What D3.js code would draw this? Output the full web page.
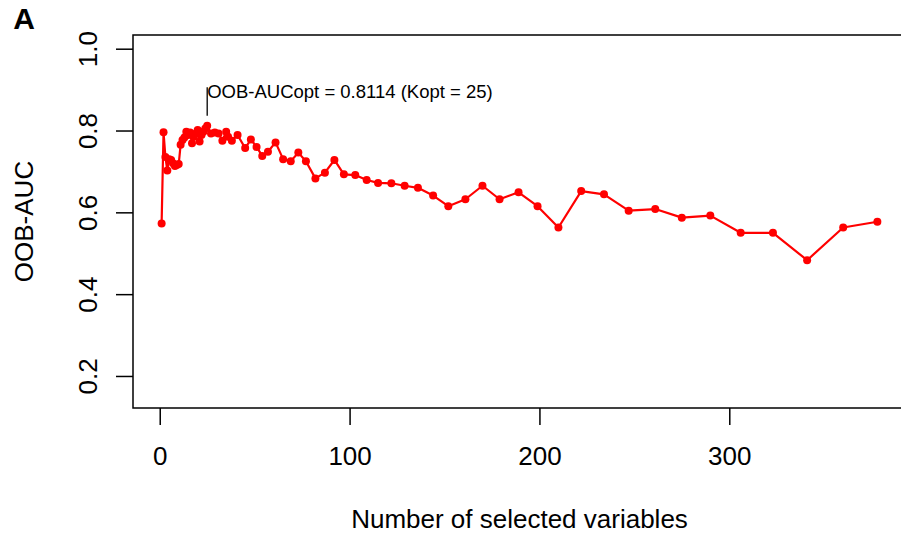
<!DOCTYPE html>
<html>
<head>
<meta charset="utf-8">
<script src="https://cdn.jsdelivr.net/npm/d3@7"></script>
<style>
	body { margin: 0; background: #fff; }
	text { font-family: "Liberation Sans", Arial, sans-serif; }
</style>
</head>
<body>
<div id="canvas"></div>
<script>
// data
const nVars = [1, 2, 3, 4, 5, 6, 7, 8, 9, 10, 11, 12, 13, 14, 15, 16, 17, 18, 19, 20, 21, 22, 23, 24, 25,
	27, 29, 31, 33, 35, 36, 38, 41, 45, 48, 51, 54, 57, 61, 65, 69, 73, 77, 82, 87, 92, 97, 103,
	109, 115, 122, 129, 136, 144, 152, 161, 170, 179, 189, 199, 210, 222, 234, 247, 261, 275, 290,
	306, 323, 341, 360, 378];
const oobAuc = [0.573, 0.796, 0.735, 0.702, 0.730, 0.728, 0.720, 0.713, 0.716, 0.718, 0.765, 0.777, 0.783,
	0.797, 0.789, 0.795, 0.769, 0.785, 0.793, 0.801, 0.773, 0.789, 0.797, 0.805, 0.8114,
	0.793, 0.795, 0.793, 0.775, 0.797, 0.785, 0.775, 0.789, 0.757, 0.778, 0.760, 0.738, 0.748, 0.771,
	0.730, 0.725, 0.746, 0.725, 0.683, 0.697, 0.728, 0.693, 0.691,
	0.679, 0.672, 0.671, 0.665, 0.660, 0.641, 0.615, 0.632, 0.665, 0.632, 0.649, 0.615, 0.563, 0.652,
	0.644, 0.604, 0.608, 0.587, 0.592, 0.550, 0.550, 0.483, 0.563, 0.577];
const xTicks = [0, 100, 200, 300];
const yTicks = [0.2, 0.4, 0.6, 0.8, 1.0];
const kOpt = 25;
const aucOpt = 0.8114;
const optLabel = `OOB-AUCopt = ${aucOpt} (Kopt = ${kOpt})`;
const panelLabel = "A";
const xTitle = "Number of selected variables";
const yTitle = "OOB-AUC";

function drawChart() {

	// 1. Dimensions
	const width = 901;
	const height = 536;
	const box = { left: 133, top: 35, right: 906, bottom: 408 };

	// 2. Canvas
	const svg = d3.select("#canvas")
		.append("svg")
		.attr("width", width)
		.attr("height", height);

	// 3. Scales
	const xScale = d3.scaleLinear()
		.domain([-14.08, 393.08])
		.range([box.left, box.right]);

	const yScale = d3.scaleLinear()
		.domain([0.1217, 1.0335])
		.range([box.bottom, box.top]);

	// 4. Data
	const data = nVars.map((k, i) => ({ k: k, auc: oobAuc[i] }));

	const line = d3.line()
		.x(d => xScale(d.k))
		.y(d => yScale(d.auc));

	svg.append("path")
		.datum(data)
		.attr("fill", "none")
		.attr("stroke", "#ff0000")
		.attr("stroke-width", 2.2)
		.attr("stroke-linejoin", "round")
		.attr("d", line);

	svg.append("g")
		.selectAll("circle")
		.data(data)
		.enter()
		.append("circle")
		.attr("cx", d => xScale(d.k))
		.attr("cy", d => yScale(d.auc))
		.attr("r", 4)
		.attr("fill", "#ff0000");

	// optimum marker
	svg.append("line")
		.attr("x1", xScale(kOpt))
		.attr("x2", xScale(kOpt))
		.attr("y1", yScale(0.836))
		.attr("y2", yScale(0.906))
		.attr("stroke", "#000")
		.attr("stroke-width", 1.3);

	svg.append("text")
		.attr("x", xScale(kOpt))
		.attr("y", yScale(0.88))
		.attr("font-size", 18.5)
		.attr("fill", "#000")
		.text(optLabel);

	// 5. Axes
	svg.append("rect")
		.attr("x", box.left)
		.attr("y", box.top)
		.attr("width", box.right - box.left)
		.attr("height", box.bottom - box.top)
		.attr("fill", "none")
		.attr("stroke", "#000")
		.attr("stroke-width", 1.5);

	const xAxis = d3.axisBottom(xScale)
		.tickValues(xTicks)
		.tickSize(17)
		.tickPadding(22);

	const xAxisGroup = svg.append("g")
		.attr("transform", `translate(0, ${box.bottom})`)
		.call(xAxis);
	xAxisGroup.select(".domain").remove();
	xAxisGroup.selectAll("line").attr("stroke-width", 1.5);
	xAxisGroup.selectAll("text")
		.attr("font-size", 26)
		.attr("font-family", "Liberation Sans, Arial, sans-serif")
		.attr("fill", "#000");

	const yAxis = d3.axisLeft(yScale)
		.tickValues(yTicks)
		.tickFormat(d3.format(".1f"))
		.tickSize(17);

	const yAxisGroup = svg.append("g")
		.attr("transform", `translate(${box.left}, 0)`)
		.call(yAxis);
	yAxisGroup.select(".domain").remove();
	yAxisGroup.selectAll("line").attr("stroke-width", 1.5);
	yAxisGroup.selectAll("text")
		.attr("font-size", 26)
		.attr("font-family", "Liberation Sans, Arial, sans-serif")
		.attr("fill", "#000")
		.attr("transform", "rotate(-90)")
		.attr("x", 0)
		.attr("y", -36)
		.attr("dy", 0)
		.style("text-anchor", "middle");

	// 6. Titles
	svg.append("text")
		.attr("x", (box.left + box.right) / 2)
		.attr("y", 528)
		.attr("text-anchor", "middle")
		.attr("font-size", 26)
		.text(xTitle);

	svg.append("text")
		.attr("transform", `translate(33, ${(box.top + box.bottom) / 2}) rotate(-90)`)
		.attr("text-anchor", "middle")
		.attr("font-size", 26)
		.text(yTitle);

	svg.append("text")
		.attr("x", 24)
		.attr("y", 29)
		.attr("text-anchor", "middle")
		.attr("font-size", 30)
		.attr("font-weight", "bold")
		.text(panelLabel);
}

drawChart();
</script>
</body>
</html>
